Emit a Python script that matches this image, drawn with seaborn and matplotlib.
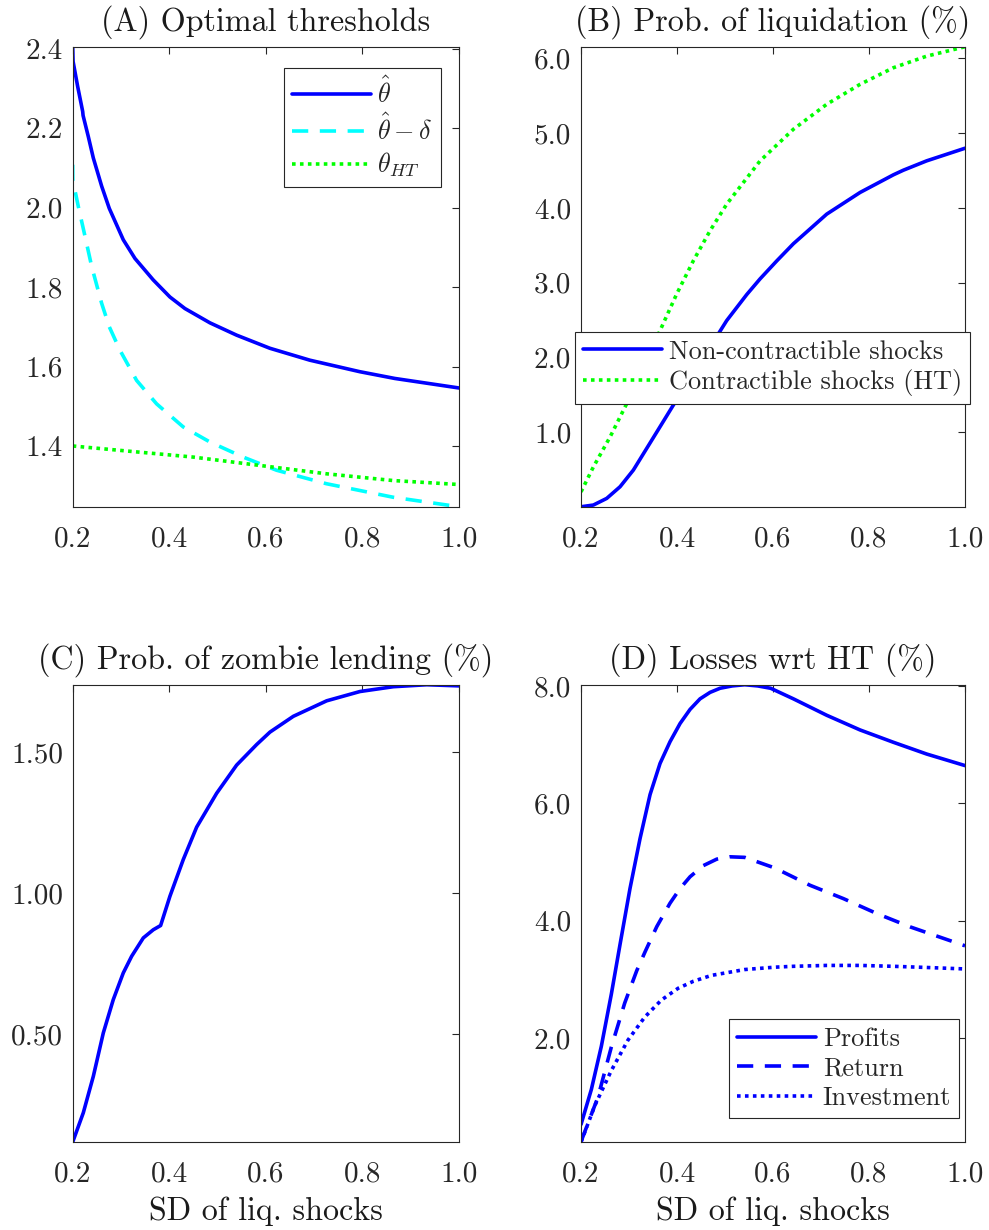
import numpy as np
import seaborn as sns
import matplotlib
matplotlib.use('Agg')
import matplotlib.pyplot as plt
from matplotlib.ticker import FormatStrFormatter

sns.set_theme(style='white')
plt.rcParams['font.family'] = 'serif'
plt.rcParams['font.serif'] = ['cmr10', 'DejaVu Serif']
plt.rcParams['mathtext.fontset'] = 'cm'
plt.rcParams['axes.unicode_minus'] = False
plt.rcParams['axes.formatter.use_mathtext'] = True

# (A) Optimal thresholds
a_x_hat = [0.2, 0.2008, 0.2103, 0.2207, 0.2215, 0.2323, 0.2427, 0.26, 0.2758, 0.3048, 0.329, 0.3668,
           0.4014, 0.4324, 0.4842, 0.5394, 0.6083, 0.691, 0.7945, 0.867, 1.0]
a_theta_hat = [2.405, 2.368, 2.305, 2.242, 2.232, 2.179, 2.125, 2.054, 1.998, 1.919, 1.872, 1.818,
               1.775, 1.746, 1.710, 1.679, 1.646, 1.616, 1.587, 1.570, 1.546]
a_x_delta = [0.2, 0.2002, 0.2116, 0.2255, 0.2393, 0.26, 0.2758, 0.2979, 0.3324, 0.3738, 0.4289,
             0.4842, 0.5531, 0.622, 0.7255, 0.8634, 1.0]
a_theta_delta = [2.108, 2.07, 2.003, 1.928, 1.852, 1.759, 1.70, 1.641, 1.565, 1.506, 1.448,
                 1.41, 1.372, 1.339, 1.305, 1.271, 1.247]
a_x_ht = [0.2, 0.3117, 0.45, 0.5876, 0.7255, 0.8634, 1.0]
a_theta_ht = [1.40, 1.3874, 1.372, 1.351, 1.330, 1.313, 1.303]

# (B) Prob. of liquidation (%)
b_x = [0.2, 0.2257, 0.2535, 0.2813, 0.309, 0.3368, 0.3646, 0.3923, 0.434, 0.4688, 0.4896, 0.5035,
       0.5452, 0.573, 0.6077, 0.6424, 0.7118, 0.7813, 0.8507, 0.8715, 0.92, 1.0]
b_noncontract = [0.0, 0.023, 0.112, 0.268, 0.491, 0.781, 1.071, 1.361, 1.779, 2.135, 2.35, 2.492,
                 2.84, 3.05, 3.29, 3.52, 3.916, 4.206, 4.442, 4.504, 4.629, 4.798]
b_x_ht = [0.2, 0.2257, 0.2604, 0.295, 0.3299, 0.3646, 0.3993, 0.434, 0.4688, 0.5035, 0.573,
          0.6424, 0.7118, 0.7813, 0.8507, 0.92, 1.0]
b_contract = [0.199, 0.533, 0.933, 1.378, 1.868, 2.358, 2.848, 3.293, 3.694, 4.05, 4.629,
              5.052, 5.386, 5.653, 5.875, 6.03, 6.156]

# (C) Prob. of zombie lending (%)
c_x = [0.2, 0.222, 0.2427, 0.2634, 0.284, 0.3048, 0.3221, 0.3462, 0.3669, 0.3821, 0.4014, 0.429,
       0.4567, 0.4981, 0.5395, 0.581, 0.6085, 0.6569, 0.726, 0.795, 0.864, 0.933, 1.0]
c_zombie = [0.118, 0.222, 0.351, 0.505, 0.623, 0.718, 0.777, 0.842, 0.871, 0.886, 0.990, 1.12,
            1.235, 1.355, 1.455, 1.528, 1.572, 1.628, 1.683, 1.716, 1.733, 1.740, 1.736]

# (D) Losses wrt HT (%)
d_x_profits = [0.2, 0.2215, 0.2423, 0.2631, 0.2813, 0.302, 0.3229, 0.3438, 0.3646, 0.3854, 0.4063,
               0.4271, 0.4479, 0.4688, 0.4896, 0.515, 0.541, 0.568, 0.595, 0.6424, 0.7118, 0.7813,
               0.8507, 0.92, 1.0]
d_profits = [0.533, 1.128, 1.864, 2.75, 3.6, 4.55, 5.4, 6.15, 6.68, 7.05, 7.36,
             7.6, 7.78, 7.89, 7.96, 8.0, 8.02, 8.0, 7.96, 7.78, 7.50, 7.25,
             7.04, 6.84, 6.643]
d_x_return = [0.2, 0.2354, 0.2631, 0.291, 0.316, 0.3333, 0.3577, 0.3854, 0.4063, 0.4271, 0.4548,
              0.4827, 0.51, 0.541, 0.6035, 0.677, 0.7465, 0.816, 0.8854, 1.0]
d_return = [0.24, 1.0, 1.85, 2.6, 3.15, 3.47, 3.9, 4.3, 4.55, 4.75, 4.94,
            5.05, 5.09, 5.08, 4.90, 4.605, 4.378, 4.124, 3.897, 3.574]
d_x_invest = [0.2, 0.2285, 0.2631, 0.2979, 0.3327, 0.3673, 0.4021, 0.434, 0.4715, 0.541, 0.6035,
              0.6424, 0.7118, 0.7813, 0.8507, 0.92, 1.0]
d_invest = [0.232, 0.85, 1.45, 1.97, 2.36, 2.65, 2.85, 2.97, 3.07, 3.17, 3.21,
            3.225, 3.24, 3.24, 3.225, 3.205, 3.18]

BLUE = (0, 0, 1)
CYAN = (0, 1, 1)
GREEN = (0, 1, 0)
LW = 2.6
FS = 21
DASH = (4.5, 3.2)
DOT = (1, 1.2)

fig = plt.figure(figsize=(9.89, 12.30), dpi=100)
axA = fig.add_axes([0.0735, 0.588, 0.3906, 0.374])
axB = fig.add_axes([0.5875, 0.588, 0.3883, 0.374])
axC = fig.add_axes([0.0735, 0.0715, 0.3906, 0.3718])
axD = fig.add_axes([0.5875, 0.0715, 0.3883, 0.3718])


def style_axes(ax, title, fmt, yticks, ylim, xlabel=None):
    ax.set_xlim(0.2, 1.0)
    ax.set_ylim(*ylim)
    ax.set_xticks([0.2, 0.4, 0.6, 0.8, 1.0])
    ax.set_yticks(yticks)
    ax.xaxis.set_major_formatter(FormatStrFormatter('%.1f'))
    ax.yaxis.set_major_formatter(FormatStrFormatter(fmt))
    ax.tick_params(direction='in', length=5, width=0.8, color='0.15',
                   top=True, right=True, labelsize=FS, labelcolor='0.15')
    ax.tick_params(axis='y', pad=7)
    ax.tick_params(axis='x', pad=14)
    for s in ax.spines.values():
        s.set_color('0.15')
        s.set_linewidth(0.8)
    ax.set_title(title, fontsize=FS * 1.1, color='0.1', pad=12)
    if xlabel:
        ax.set_xlabel(xlabel, fontsize=FS * 1.1, color='0.1', labelpad=6)
    else:
        ax.set_xlabel('')
    ax.set_ylabel('')


def legend(ax, **kw):
    leg = ax.legend(fontsize=FS * 0.9, frameon=True, fancybox=False, framealpha=1,
                    edgecolor='0.15', handlelength=3.0, handletextpad=0.25,
                    borderpad=0.3, labelspacing=0.22, borderaxespad=0, **kw)
    leg.get_frame().set_linewidth(0.8)
    return leg


# (A)
sns.lineplot(x=a_x_hat, y=a_theta_hat, ax=axA, color=BLUE, lw=LW, label=r'$\hat{\theta}$')
sns.lineplot(x=a_x_delta, y=a_theta_delta, ax=axA, color=CYAN, lw=LW, dashes=DASH,
             label=r'$\hat{\theta}-\delta$')
sns.lineplot(x=a_x_ht, y=a_theta_ht, ax=axA, color=GREEN, lw=LW, dashes=DOT,
             label=r'$\theta_{HT}$')
style_axes(axA, '(A) Optimal thresholds', '%.1f', [1.4, 1.6, 1.8, 2.0, 2.2, 2.4], (1.247, 2.405))
legend(axA, loc='upper right', bbox_to_anchor=(0.953, 0.953))

# (B)
sns.lineplot(x=b_x, y=b_noncontract, ax=axB, color=BLUE, lw=LW, label='Non-contractible shocks')
sns.lineplot(x=b_x_ht, y=b_contract, ax=axB, color=GREEN, lw=LW, dashes=DOT,
             label='Contractible shocks (HT)')
style_axes(axB, '(B) Prob. of liquidation (%)', '%.1f', [1.0, 2.0, 3.0, 4.0, 5.0, 6.0], (0.0, 6.156))
legend(axB, loc='center', bbox_to_anchor=(0.4987, 0.3015))

# (C)
sns.lineplot(x=c_x, y=c_zombie, ax=axC, color=BLUE, lw=LW)
style_axes(axC, '(C) Prob. of zombie lending (%)', '%.2f', [0.5, 1.0, 1.5], (0.118, 1.74),
           xlabel='SD of liq. shocks')

# (D)
sns.lineplot(x=d_x_profits, y=d_profits, ax=axD, color=BLUE, lw=LW, label='Profits')
sns.lineplot(x=d_x_return, y=d_return, ax=axD, color=BLUE, lw=LW, dashes=DASH, label='Return')
sns.lineplot(x=d_x_invest, y=d_invest, ax=axD, color=BLUE, lw=LW, dashes=DOT, label='Investment')
style_axes(axD, '(D) Losses wrt HT (%)', '%.1f', [2.0, 4.0, 6.0, 8.0], (0.232, 8.02),
           xlabel='SD of liq. shocks')
legend(axD, loc='lower right', bbox_to_anchor=(0.984, 0.053))

fig.savefig('out.png', dpi=100)
